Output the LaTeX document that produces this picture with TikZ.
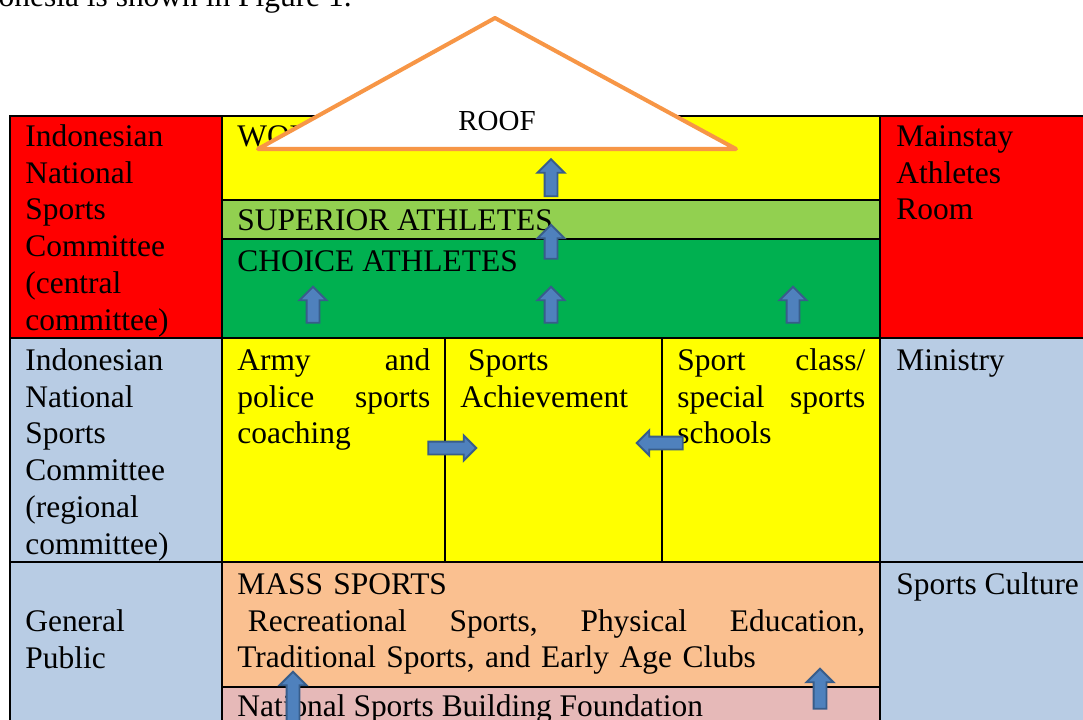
\documentclass[tikz,border=0pt]{standalone}
\usepackage{fontspec}
\setmainfont{Liberation Serif}
\usetikzlibrary{shapes.arrows}

\definecolor{cellred}{HTML}{FF0000}
\definecolor{cellyellow}{HTML}{FFFF00}
\definecolor{cellgreen}{HTML}{92D050}
\definecolor{celldarkgreen}{HTML}{00B050}
\definecolor{cellblue}{HTML}{B8CCE4}
\definecolor{cellorange}{HTML}{FAC090}
\definecolor{cellpink}{HTML}{E6B9B8}
\definecolor{roofline}{HTML}{F79646}
\definecolor{arrowfill}{HTML}{4F81BD}
\definecolor{arrowline}{HTML}{385D8A}

\newcommand{\cellfont}{\fontsize{17.9}{21}\selectfont}

\tikzset{
  cell/.style={draw=black, line width=1.7pt},
  txt/.style={anchor=north west, inner sep=0pt, align=left, font=\cellfont},
  blockarrow/.style={single arrow, draw=arrowline, fill=arrowfill, line width=1.1pt,
    inner sep=0.11cm, single arrow head extend=0.14cm,
    single arrow tip angle=90},
  roof/.style={draw=roofline, fill=white, line width=2.3pt, line join=round},
}

\begin{document}
\begin{tikzpicture}[x=0.02cm, y=-0.02cm]
    \useasboundingbox (0,0) rectangle (1083,720);

    % line of the page above the figure
    \node[anchor=base east, inner sep=0pt, font=\cellfont] (caption) at (352,7) {Indonesia is shown in Figure 1.};

    % first row
    \draw[cell, fill=cellred] (10,116) rectangle (222,338);
    \draw[cell, fill=cellyellow] (222,116) rectangle (880,200);
    \draw[cell, fill=cellgreen] (222,200) rectangle (880,239);
    \draw[cell, fill=celldarkgreen] (222,239) rectangle (880,338);
    \draw[cell, fill=cellred] (880,116) rectangle (1100,338);

    % second row
    \draw[cell, fill=cellblue] (10,338) rectangle (222,562);
    \draw[cell, fill=cellyellow] (222,338) rectangle (445,562);
    \draw[cell, fill=cellyellow] (445,338) rectangle (662,562);
    \draw[cell, fill=cellyellow] (662,338) rectangle (880,562);
    \draw[cell, fill=cellblue] (880,338) rectangle (1100,562);

    % third row
    \draw[cell, fill=cellblue] (10,562) rectangle (222,740);
    \draw[cell, fill=cellorange] (222,562) rectangle (880,687);
    \draw[cell, fill=cellpink] (222,687) rectangle (880,740);
    \draw[cell, fill=cellblue] (880,562) rectangle (1100,740);

    % texts
    \node[txt] (central) at (25,120) {\strut Indonesian\\National\\Sports\\Committee\\(central\\committee)};
    \node[txt] (world) at (237,120) {\strut WORLD};
    \node[txt] (superior) at (237,204) {\strut SUPERIOR ATHLETES};
    \node[txt] (choice) at (237,245) {\strut CHOICE ATHLETES};
    \node[txt] (mainstay) at (896,120) {\strut Mainstay\\Athletes\\Room};

    \node[txt] (regional) at (25,344) {\strut Indonesian\\National\\Sports\\Committee\\(regional\\committee)};
    \node[txt, text width=3.86cm] (army) at (237,344) {\strut Army\hfill and\\police\hfill sports\\coaching};
    \node[txt] (achievement) at (460,344) {\strut\ Sports\\Achievement};
    \node[txt, text width=3.76cm] (schools) at (677,344) {\strut Sport\hfill class/\\special\hfill sports\\schools};
    \node[txt] (ministry) at (896,344) {\strut Ministry};

    \node[txt] (public) at (25,605) {\strut General\\Public};
    \node[txt, text width=12.56cm] (mass) at (237,568) {\strut MASS SPORTS\\\ Recreational\hfill Sports,\hfill Physical\hfill Education,\\Traditional Sports, and Early Age Clubs};
    \node[txt] (foundation) at (237,690) {\strut National Sports Building Foundation};
    \node[txt] (culture) at (896,568) {\strut Sports Culture};

    % arrows
    \node[blockarrow, shape border rotate=90, minimum height=0.74cm] (up1) at (551,181) {};
    \node[blockarrow, shape border rotate=90, minimum height=0.68cm] (up2) at (551,245) {};
    \node[blockarrow, shape border rotate=90, minimum height=0.72cm] (up3) at (313,308) {};
    \node[blockarrow, shape border rotate=90, minimum height=0.72cm] (up4) at (551,308) {};
    \node[blockarrow, shape border rotate=90, minimum height=0.72cm] (up5) at (793,308) {};
    \node[blockarrow, minimum height=0.96cm, single arrow head extend=0.12cm] (right1) at (449,448) {};
    \node[blockarrow, shape border rotate=180, minimum height=0.92cm, single arrow head extend=0.12cm] (left1) at (663,443) {};
    \node[blockarrow, shape border rotate=90, minimum height=1.0cm] (up6) at (293,700) {};
    \node[blockarrow, shape border rotate=90, minimum height=0.8cm] (up7) at (820,692) {};

    % roof
    \coordinate (roofL) at (258,149);
    \coordinate (roofT) at (495,18);
    \coordinate (roofR) at (736,149);
    \draw[roof] (roofL) -- (roofT) -- (roofR) -- cycle;
    \node[anchor=base, inner sep=0pt, font=\fontsize{16.5}{19}\selectfont] (rooflabel) at (497,130) {ROOF};
\end{tikzpicture}
\end{document}
